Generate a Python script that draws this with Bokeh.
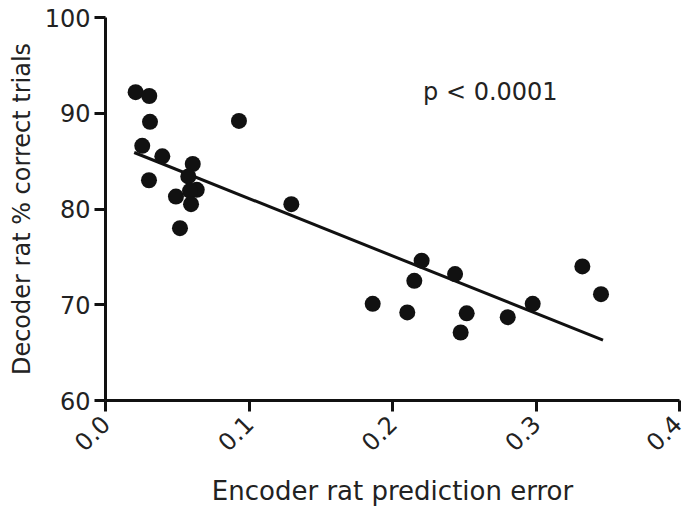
import math
from bokeh.plotting import figure
from bokeh.models import Range1d, FixedTicker, Label, NumeralTickFormatter
from bokeh.embed import file_html
from bokeh.resources import INLINE

# Data
enc_error = [0.021, 0.0305, 0.031, 0.0256, 0.0396, 0.0303, 0.0608, 0.0577, 0.0491,
             0.0636, 0.0589, 0.0596, 0.0519, 0.093, 0.1295, 0.2203, 0.2436, 0.2152,
             0.1862, 0.2103, 0.2517, 0.2475, 0.2803, 0.2977, 0.3323, 0.3453]
dec_correct = [92.2, 91.8, 89.1, 86.6, 85.5, 83.0, 84.7, 83.4, 81.3,
               82.0, 81.9, 80.5, 78.0, 89.2, 80.5, 74.6, 73.2, 72.5,
               70.1, 69.2, 69.1, 67.1, 68.7, 70.1, 74.0, 71.1]
fit_x = [0.020, 0.3467]
fit_y = [85.9, 66.3]
x_ticks = [0.0, 0.1, 0.2, 0.3, 0.4]
y_ticks = [60, 70, 80, 90, 100]
p_text = "p < 0.0001"

FONT = "DejaVu Sans"
TXT = "#222222"

p = figure(width=683, height=512, output_backend="svg", toolbar_location=None,
           x_range=Range1d(0, 0.4), y_range=Range1d(60, 100),
           min_border_left=105, min_border_right=4, min_border_top=17, min_border_bottom=112)
p.outline_line_color = None
p.xgrid.visible = False
p.ygrid.visible = False
p.background_fill_color = "white"
p.border_fill_color = "white"

p.xaxis.ticker = FixedTicker(ticks=x_ticks)
p.yaxis.ticker = FixedTicker(ticks=y_ticks)
p.xaxis.formatter = NumeralTickFormatter(format="0.0")
for ax in (p.xaxis[0], p.yaxis[0]):
    ax.axis_line_width = 3
    ax.axis_line_color = "#111111"
    ax.major_tick_line_width = 3
    ax.major_tick_line_color = "#111111"
    ax.major_tick_out = 11
    ax.major_tick_in = 0
    ax.minor_tick_line_color = None
    ax.major_label_text_font = FONT
    ax.major_label_text_font_size = "24px"
    ax.major_label_text_color = TXT
    ax.axis_label_text_font = FONT
    ax.axis_label_text_font_style = "normal"
    ax.axis_label_text_color = TXT

p.xaxis.axis_label = "Encoder rat prediction error"
p.yaxis.axis_label = "Decoder rat % correct trials"
p.xaxis.axis_label_text_font_size = "26px"
p.yaxis.axis_label_text_font_size = "24px"
p.xaxis.major_label_orientation = math.pi / 4
p.xaxis.major_label_standoff = 8
p.yaxis.major_label_standoff = 4
p.yaxis.axis_label_standoff = 6
p.xaxis.axis_label_standoff = 14

p.line(fit_x, fit_y, line_color="#111111", line_width=3)
p.scatter(enc_error, dec_correct, size=16, fill_color="#111111", line_color=None)

p.add_layout(Label(x=0.2213, y=92.2, text=p_text, text_font=FONT, text_font_size="24px",
                   text_color=TXT, text_baseline="alphabetic"))

open("out.html", "w").write(file_html(p, INLINE))
